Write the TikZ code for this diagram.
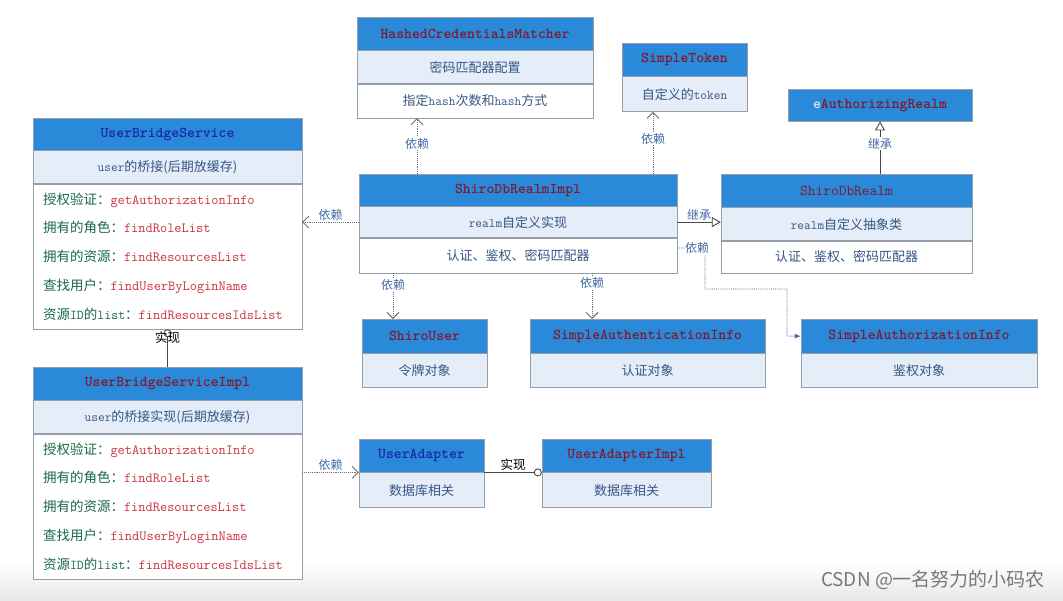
\documentclass[tikz,border=0pt]{standalone}
\usepackage{fontspec}
\setmainfont{Noto Sans CJK SC}
\usetikzlibrary{arrows.meta,positioning,calc}

\definecolor{hdrblue}{RGB}{42,137,217}
\definecolor{rowblue}{RGB}{229,237,248}
\definecolor{boxline}{RGB}{150,158,170}
\definecolor{clsred}{RGB}{130,24,44}
\definecolor{ifcblue}{RGB}{26,38,170}
\definecolor{rowtext}{RGB}{54,86,132}
\definecolor{cngreen}{RGB}{26,104,76}
\definecolor{codered}{RGB}{204,52,64}
\definecolor{lbltext}{RGB}{64,106,166}
\definecolor{depgray}{RGB}{110,110,110}
\definecolor{linegray}{RGB}{70,70,70}
\definecolor{markgray}{RGB}{120,120,120}

\newcommand{\mline}[2]{{\color{cngreen}#1：}{\color{codered}\fontsize{14}{28.7}\ttfamily #2}}

\begin{document}
\begin{tikzpicture}[x=1pt, y=-1pt,
  hdr/.style={draw=boxline, fill=hdrblue, anchor=north, inner sep=0pt, text=clsred,
    font=\fontsize{15}{18}\ttfamily\bfseries},
  ifc/.style={hdr, text=ifcblue},
  row/.style={draw=boxline, fill=rowblue, inner sep=0pt, text=rowtext,
    font=\fontsize{13}{16}\selectfont},
  plainrow/.style={row, fill=white},
  mlist/.style={draw=boxline, fill=white, inner xsep=10pt, inner ysep=0pt, align=left,
    minimum height=145pt, font=\fontsize{13.5}{28.7}\selectfont},
  dep/.style={draw=depgray, densely dotted, line width=0.9pt, -{Straight Barb[length=6pt,width=12pt]}},
  bluedep/.style={draw=lbltext, densely dotted, line width=0.9pt, -{Latex[length=6pt,width=5pt]}},
  inh/.style={draw=linegray, line width=0.9pt, -{Triangle[open,length=9pt,width=10pt,fill=white]}},
  impl/.style={draw=linegray, line width=0.9pt, -{Circle[open,length=8pt,fill=white]}},
  lbl/.style={text=lbltext, inner sep=1pt, font=\fontsize{12}{14}\selectfont},
  implbl/.style={text=black, inner sep=1pt, font=\fontsize{12.5}{14}\selectfont}
]
  \useasboundingbox (0,0) rectangle (1063,600);
  \fill[white] (0,0) rectangle (1063,600);
  \shade[top color=white, bottom color=black!9] (0,562) rectangle (1063,600);

  % matcher, token, abstract realm
  \node (hcm-h) [hdr, minimum width=236pt, minimum height=33pt] at (475,17) {HashedCredentialsMatcher};
  \node (hcm-r) [row, minimum width=236pt, minimum height=33pt, below=0pt of hcm-h] {密码匹配器配置};
  \node (hcm-c) [plainrow, minimum width=236pt, minimum height=34pt, below=0pt of hcm-r] {指定\texttt{hash}次数和\texttt{hash}方式};

  \node (stok-h) [hdr, minimum width=125pt, minimum height=33pt] at (684.5,43) {SimpleToken};
  \node (stok-r) [row, minimum width=125pt, minimum height=35pt, below=0pt of stok-h] {自定义的\texttt{token}};

  \node (areal-h) [hdr, minimum width=184pt, minimum height=32pt] at (880,89) {{\color{hdrblue!20!white}e}AuthorizingRealm};

  % user bridge service
  \node (ubs-h) [ifc, minimum width=269pt, minimum height=32pt] at (167.5,118) {UserBridgeService};
  \node (ubs-r) [row, minimum width=269pt, minimum height=33pt, below=0pt of ubs-h] {\texttt{user}的桥接(后期放缓存)};
  \node (ubs-l) [mlist, text width=249pt, below=0pt of ubs-r] {\mline{授权验证}{getAuthorizationInfo}\\
    \mline{拥有的角色}{findRoleList}\\
    \mline{拥有的资源}{findResourcesList}\\
    \mline{查找用户}{findUserByLoginName}\\
    \mline{资源{\ttfamily ID}的{\ttfamily list}}{findResourcesIdsList}};

  % realms
  \node (sdri-h) [hdr, minimum width=318pt, minimum height=32pt] at (518,174) {ShiroDbRealmImpl};
  \node (sdri-r) [row, minimum width=318pt, minimum height=31pt, below=0pt of sdri-h] {\texttt{realm}自定义实现};
  \node (sdri-c) [plainrow, minimum width=318pt, minimum height=35pt, below=0pt of sdri-r] {认证、鉴权、密码匹配器};

  \node (sdr-h) [hdr, font=\fontsize{15}{18}\ttfamily, minimum width=251pt, minimum height=33pt] at (846.5,174) {ShiroDbRealm};
  \node (sdr-r) [row, minimum width=251pt, minimum height=33pt, below=0pt of sdr-h] {\texttt{realm}自定义抽象类};
  \node (sdr-c) [plainrow, minimum width=251pt, minimum height=32pt, below=0pt of sdr-r] {认证、鉴权、密码匹配器};

  % info objects
  \node (suser-h) [hdr, minimum width=125pt, minimum height=34pt] at (424.5,319) {ShiroUser};
  \node (suser-r) [row, minimum width=125pt, minimum height=34pt, below=0pt of suser-h] {令牌对象};

  \node (sauthc-h) [hdr, minimum width=235pt, minimum height=34pt] at (647.5,319) {SimpleAuthenticationInfo};
  \node (sauthc-r) [row, minimum width=235pt, minimum height=34pt, below=0pt of sauthc-h] {认证对象};

  \node (sauthz-h) [hdr, minimum width=236pt, minimum height=34pt] at (919,319) {SimpleAuthorizationInfo};
  \node (sauthz-r) [row, minimum width=236pt, minimum height=34pt, below=0pt of sauthz-h] {鉴权对象};

  % user bridge service impl
  \node (ubsi-h) [hdr, minimum width=269pt, minimum height=33pt] at (167.5,367) {UserBridgeServiceImpl};
  \node (ubsi-r) [row, minimum width=269pt, minimum height=33pt, below=0pt of ubsi-h] {\texttt{user}的桥接实现(后期放缓存)};
  \node (ubsi-l) [mlist, text width=249pt, below=0pt of ubsi-r] {\mline{授权验证}{getAuthorizationInfo}\\
    \mline{拥有的角色}{findRoleList}\\
    \mline{拥有的资源}{findResourcesList}\\
    \mline{查找用户}{findUserByLoginName}\\
    \mline{资源{\ttfamily ID}的{\ttfamily list}}{findResourcesIdsList}};

  % adapters
  \node (uad-h) [ifc, minimum width=125pt, minimum height=33pt] at (421.5,439) {UserAdapter};
  \node (uad-r) [row, minimum width=125pt, minimum height=35pt, below=0pt of uad-h] {数据库相关};

  \node (uadi-h) [hdr, minimum width=169pt, minimum height=33pt] at (626.5,439) {UserAdapterImpl};
  \node (uadi-r) [row, minimum width=169pt, minimum height=35pt, below=0pt of uadi-h] {数据库相关};

  % connectors
  \draw[dep] (sdri-h.north -| 417,0) -- node[lbl, fill=white, pos=0.54] {依赖} (hcm-c.south -| 417,0);
  \draw[dep] (sdri-h.north -| 653,0) -- node[lbl, fill=white, pos=0.57] {依赖} (stok-r.south -| 653,0);
  \draw[inh] (sdr-h.north -| 880,0) -- node[lbl, fill=white, pos=0.58] {继承} (areal-h.south -| 880,0);
  \draw[inh] (sdri-r.east) -- node[lbl, above] {继承} (sdri-r.east -| sdr-r.west);
  \draw[dep] (sdri-r.west) -- node[lbl, above] {依赖} (sdri-r.west -| ubs-l.east);
  \draw[dep] (sdri-c.south -| 393,0) -- node[lbl, fill=white, pos=0.25] {依赖} (suser-h.north -| 393,0);
  \draw[dep] (sdri-c.south -| 592,0) -- node[lbl, fill=white, pos=0.22] {依赖} (sauthc-h.north -| 592,0);
  \draw[bluedep] (sdri-c.east |- 0,248) -- node[lbl, fill=white, pos=0.72] {依赖} (705,248)
    -- (705,289) -- (787,289) -- (787,336) -- (sauthz-h.west);
  \draw[impl] (ubsi-h.north) -- node[implbl, pos=0.77] {实现} (ubs-l.south);
  \draw[dep] (uad-h.south west -| ubsi-l.east) -- node[lbl, above] {依赖} (uad-h.south west);
  \draw[impl] (uad-h.south east) -- node[implbl, above] {实现} (uadi-h.south west);

  \node (mark) [text=markgray, font=\fontsize{19}{21}\selectfont] at (933,580) {CSDN @一名努力的小码农};
\end{tikzpicture}
\end{document}
